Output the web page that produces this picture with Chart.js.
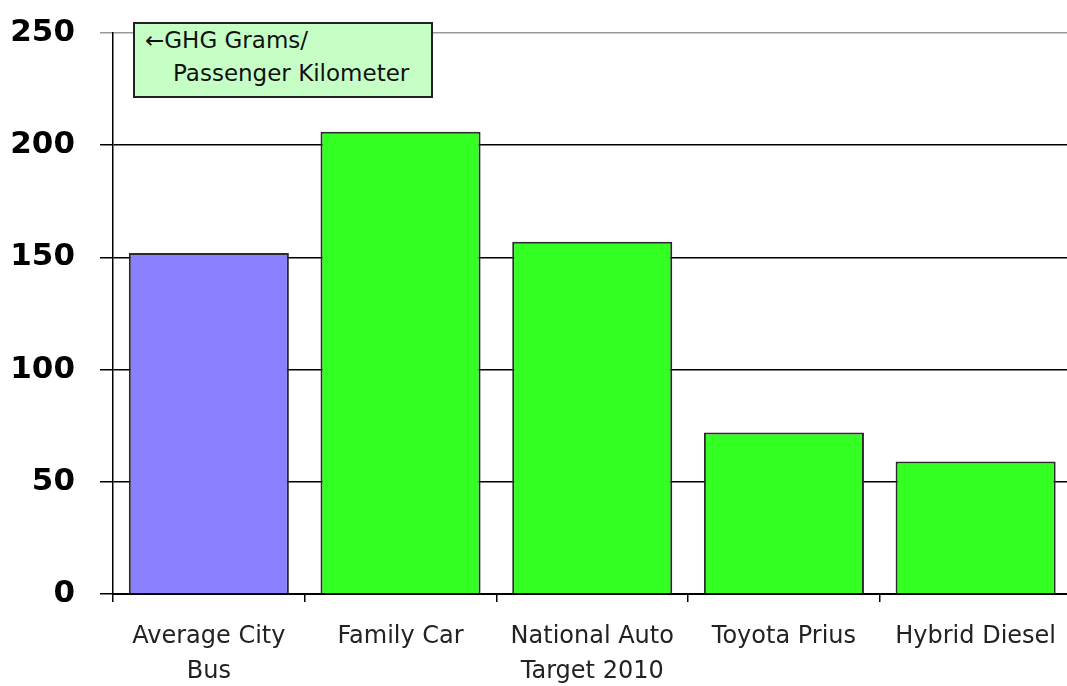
<!DOCTYPE html>
<html>
<head>
<meta charset="utf-8">
<script src="https://cdn.jsdelivr.net/npm/chart.js@4"></script>
<style>
  html, body { margin: 0; padding: 0; background: #fff; overflow: hidden; }
  #wrap { position: relative; width: 1067px; height: 686px; overflow: hidden; }
  #note {
    position: absolute; left: 133px; top: 22px; width: 286px; height: 72px;
    background: #c6ffc6; border: 2px solid #222;
    font: 23px "DejaVu Sans", sans-serif; color: #111; line-height: 33px;
    padding: 0 0 0 10px; box-sizing: content-box;
  }
  #note .l2 { padding-left: 28px; }
</style>
</head>
<body>
<div id="wrap">
  <!-- canvas a bit wider than the window: the plot runs past the right edge -->
  <canvas id="c" width="1073" height="686"></canvas>
  <div id="note"><div>←GHG Grams/</div><div class="l2">Passenger Kilometer</div></div>
</div>
<script>
// data
const kategoriler = [["Average City", "Bus"], "Family Car", ["National Auto", "Target 2010"], "Toyota Prius", "Hybrid Diesel"];
const degerler = [152, 206, 157, 72, 59];
const renkler = ["#8a80ff", "#33ff22", "#33ff22", "#33ff22", "#33ff22"];
const yMax = 250;
const yAdim = 50;

new Chart(document.getElementById("c"), {
  type: "bar",
  data: {
    labels: kategoriler,
    datasets: [{
      data: degerler,
      backgroundColor: renkler,
      borderColor: "#2a2a2a",
      borderWidth: 2,
      categoryPercentage: 1,
      barPercentage: 0.835,
    }],
  },
  options: {
    responsive: false,
    animation: false,
    layout: { padding: { top: 33, right: 0, left: 0, bottom: 0 } },
    plugins: { legend: { display: false }, tooltip: { enabled: false } },
    scales: {
      x: {
        grid: { offset: true, drawOnChartArea: false, tickLength: 8, color: "#000", lineWidth: 1.5 },
        border: { color: "#000", width: 2 },
        ticks: { color: "#222", padding: 17, maxRotation: 0, font: { family: "DejaVu Sans", size: 24, lineHeight: 1.46 } },
        afterFit: s => { s.height = 92; },
      },
      y: {
        min: 0,
        max: yMax,
        ticks: { stepSize: yAdim, color: "#000", padding: 25, font: { family: "DejaVu Sans", size: 31, weight: "bold" } },
        grid: {
          tickLength: 13,
          lineWidth: 1.5,
          color: c => (c.tick && c.tick.value === yMax ? "#999" : "#000"),
        },
        border: { color: "#000", width: 1.5 },
        afterFit: s => { s.width = 113; s.paddingTop = 0; s.paddingBottom = 0; },
      },
    },
  },
});
</script>
</body>
</html>
